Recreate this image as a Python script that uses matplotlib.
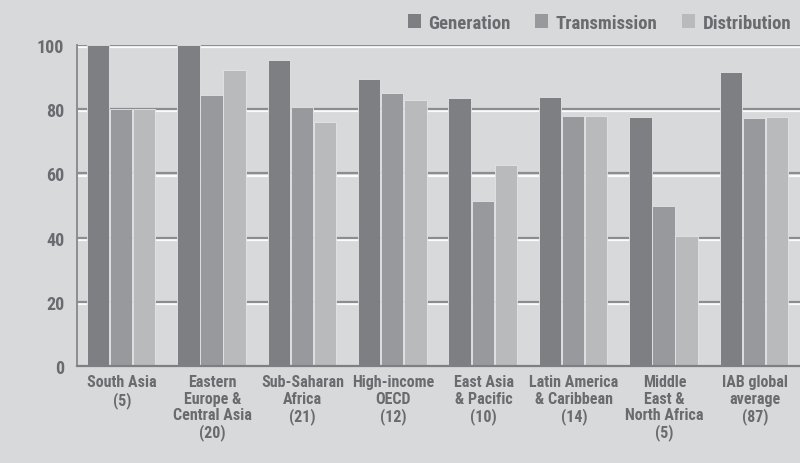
import numpy as np
import matplotlib.pyplot as plt
import matplotlib.patheffects as pe

regions = ["South Asia\n(5)", "Eastern\nEurope &\nCentral Asia\n(20)", "Sub-Saharan\nAfrica\n(21)",
           "High-income\nOECD\n(12)", "East Asia\n& Pacific\n(10)", "Latin America\n& Caribbean\n(14)",
           "Middle\nEast &\nNorth Africa\n(5)", "IAB global\naverage\n(87)"]
generation = [100, 100, 95.2, 89.4, 83.4, 83.8, 77.6, 91.7]
transmission = [80, 84.5, 80.6, 85.0, 51.5, 78.0, 49.9, 77.2]
distribution = [80, 92.3, 75.9, 82.8, 62.6, 78.0, 40.6, 77.6]

series = ["Generation", "Transmission", "Distribution"]
colors = ["#7e7f83", "#98999c", "#b9babc"]
bg = "#d8d9db"
txt = "#6a6b6f"

plt.rcParams['font.family'] = ['Roboto Condensed', 'DejaVu Sans']
plt.rcParams['font.stretch'] = 'condensed'
plt.rcParams['font.weight'] = 'bold'

fig = plt.figure(figsize=(8, 4.64), dpi=100, facecolor=bg)
ax = fig.add_axes([0.096, 0.209, 0.904, 0.692], facecolor=bg)

x = np.arange(len(regions))
w = 0.255
for k, vals in enumerate([generation, transmission, distribution]):
    ax.bar(x + (k - 1) * w - 0.01, vals, width=w * 0.97, color=colors[k],
           edgecolor="#e4e5e7", linewidth=0.6, zorder=3, label=series[k])

ax.set_xlim(-0.5, len(regions) - 0.5)
ax.set_ylim(0, 100)
ax.set_yticks([0, 20, 40, 60, 80, 100])

# embossed gridlines: dark line with a light line just below it
emboss = [pe.SimpleLineShadow(offset=(0, -1.6), shadow_color="white", alpha=0.9, rho=1),
          pe.Normal()]
for v in [20, 40, 60, 80, 100]:
    ln = ax.axhline(v, color="#8c8d90", lw=1.6, zorder=1)
    ln.set_path_effects(emboss)

for s in ["top", "right"]:
    ax.spines[s].set_visible(False)
ax.spines["left"].set_color("#8c8d90")
ax.spines["left"].set_linewidth(1.4)
ax.spines["bottom"].set_color("#7e7f83")
ax.spines["bottom"].set_linewidth(1.6)
ax.spines["bottom"].set_zorder(4)

ax.tick_params(axis="both", length=0, colors=txt)
ax.tick_params(axis="y", labelsize=13, pad=9)
ax.set_xticks(x)
ax.set_xticklabels(regions, fontsize=11.5, linespacing=1.1, color=txt)
ax.tick_params(axis="x", pad=6)
for lab in ax.get_yticklabels():
    lab.set_color(txt)

# legend row above the plot
handles, labels = ax.get_legend_handles_labels()
leg = fig.legend(handles, labels, loc="upper right", bbox_to_anchor=(1.01, 1.005), ncol=3,
                 frameon=False, fontsize=13.5, handlelength=0.7, handleheight=0.7,
                 handletextpad=0.4, columnspacing=1.3, labelcolor=txt)
for h in leg.legend_handles:
    h.set_edgecolor("none")

fig.savefig("out.png", dpi=100, facecolor=bg)
